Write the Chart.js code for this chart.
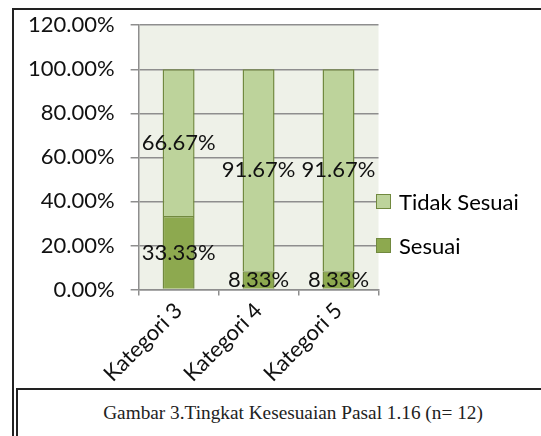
<!DOCTYPE html>
<html>
<head>
<meta charset="utf-8">
<script src="https://cdn.jsdelivr.net/npm/chart.js@4.4.0/dist/chart.umd.min.js"></script>
<style>
  html, body { margin: 0; padding: 0; background: #fff; overflow: hidden; }
  body { width: 541px; height: 436px; position: relative; }
  #frame { position: absolute; left: 12px; top: 8px; width: 600px; height: 500px;
           border-left: 2px solid #222; border-top: 2px solid #222; }
  #wrap { position: absolute; left: 11.5px; top: -4px; width: 530px; height: 420px; }
  #legend { position: absolute; left: 376px; top: 0; font-family: Lato, sans-serif; font-size: 22px; }
  .item { position: absolute; left: 0; white-space: nowrap; display: flex; align-items: center; height: 24px; }
  .box { width: 13px; height: 13px; border: 1px solid #71893F; margin-right: 8px; }
  #caption { position: absolute; left: 16px; top: 388px; width: 550px; height: 60px; background: #fff;
             border-left: 2px solid #222; border-top: 2px solid #222;
             font-family: "Liberation Serif", "Times New Roman", serif; font-size: 19.3px; color: #222;
             text-align: center; line-height: 46px; }
</style>
</head>
<body>
<div id="frame"></div>
<div id="wrap"><canvas id="chart" width="530" height="420"></canvas></div>
<div id="legend"></div>
<div id="caption">Gambar 3.Tingkat Kesesuaian Pasal 1.16 (n= 12)</div>
<script>
// Données du graphique
const categories = ['Kategori 3', 'Kategori 4', 'Kategori 5'];
const sesuai = [0.3333, 0.0833, 0.0833];
const tidakSesuai = [0.6667, 0.9167, 0.9167];
const yTicks = [0, 0.2, 0.4, 0.6, 0.8, 1.0, 1.2];

const labelFont = { family: 'Lato', size: 22 };

// fond gris-vert de la zone de tracé
const plotBg = {
    id: 'plotBg',
    beforeDraw(chart) {
        const { ctx, chartArea: a } = chart;
        ctx.save();
        ctx.fillStyle = '#EEF1E8';
        ctx.fillRect(a.left, a.top, a.right - a.left, a.bottom - a.top);
        ctx.restore();
    }
};

// étiquettes de valeurs au centre de chaque segment
const valueLabels = {
    id: 'valueLabels',
    afterDatasetsDraw(chart) {
        const ctx = chart.ctx;
        ctx.save();
        ctx.font = '22px Lato';
        ctx.fillStyle = '#111';
        ctx.textAlign = 'center';
        ctx.textBaseline = 'middle';
        chart.data.datasets.forEach((ds, i) => {
            chart.getDatasetMeta(i).data.forEach((bar, j) => {
                const { x, y, base } = bar.getProps(['x', 'y', 'base'], true);
                ctx.fillText((ds.data[j] * 100).toFixed(2) + '%', x, (y + base) / 2);
            });
        });
        ctx.restore();
    }
};

const chart = new Chart(document.getElementById('chart'), {
    type: 'bar',
    data: {
        labels: categories,
        datasets: [
            { label: 'Sesuai', data: sesuai, backgroundColor: '#8DA94F', borderColor: '#71893F', borderWidth: 1.5 },
            { label: 'Tidak Sesuai', data: tidakSesuai, backgroundColor: '#BDD39B', borderColor: '#71893F', borderWidth: 1.5 }
        ]
    },
    options: {
        responsive: false,
        animation: false,
        layout: { padding: { left: 0, right: 163.5, top: 0, bottom: 27 } },
        datasets: { bar: { barPercentage: 0.4, categoryPercentage: 1 } },
        plugins: { legend: { display: false }, tooltip: { enabled: false } },
        scales: {
            x: {
                stacked: true,
                grid: { drawOnChartArea: false, offset: true, tickLength: 6, color: '#8E8E8E', lineWidth: 1.5 },
                border: { color: '#8E8E8E', width: 1.5 },
                ticks: { font: labelFont, color: '#111', minRotation: 45, maxRotation: 45, padding: 2 }
            },
            y: {
                stacked: true,
                min: 0,
                max: 1.2,
                afterBuildTicks(axis) { axis.ticks = yTicks.map(v => ({ value: v })); },
                grid: { color: '#8E8E8E', lineWidth: 1.5, tickLength: 8 },
                border: { color: '#8E8E8E', width: 1.5 },
                ticks: {
                    font: labelFont, color: '#111', padding: 16,
                    callback: v => (v * 100).toFixed(2) + '%'
                }
            }
        }
    },
    plugins: [plotBg, valueLabels]
});

// légende HTML alignée sur les lignes de la grille
const legend = document.getElementById('legend');
[chart.data.datasets[1], chart.data.datasets[0]].forEach((ds, k) => {
    const yPix = chart.scales.y.getPixelForValue(yTicks[2 - k]) - 4;
    const item = document.createElement('div');
    item.className = 'item';
    item.style.top = (yPix - 12) + 'px';
    item.innerHTML = '<span class="box" style="background:' + ds.backgroundColor + '"></span>' + ds.label;
    legend.appendChild(item);
});
</script>
</body>
</html>
